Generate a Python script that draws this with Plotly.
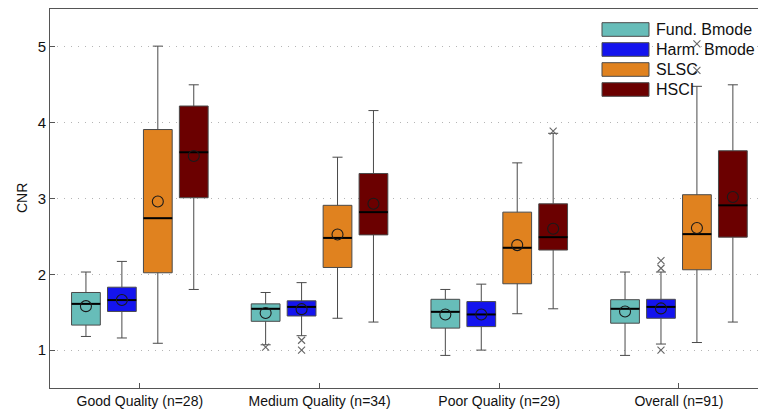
import plotly.graph_objects as go

# ---------------- data ----------------
groups = ["Good Quality (n=28)", "Medium Quality (n=34)", "Poor Quality (n=29)", "Overall (n=91)"]
series = ["Fund. Bmode", "Harm. Bmode", "SLSC", "HSCI"]

# per series: values for the 4 groups
fund_lower = [1.18, 1.07, 0.93, 0.93]
fund_q1 = [1.33, 1.38, 1.29, 1.355]
fund_median = [1.61, 1.545, 1.505, 1.545]
fund_q3 = [1.76, 1.61, 1.67, 1.665]
fund_upper = [2.03, 1.76, 1.80, 2.03]
fund_mean = [1.58, 1.49, 1.47, 1.51]

harm_lower = [1.16, 1.19, 1.00, 1.08]
harm_q1 = [1.51, 1.45, 1.31, 1.42]
harm_median = [1.66, 1.57, 1.47, 1.57]
harm_q3 = [1.83, 1.65, 1.64, 1.67]
harm_upper = [2.17, 1.89, 1.87, 2.03]
harm_mean = [1.66, 1.54, 1.47, 1.55]

slsc_lower = [1.09, 1.42, 1.48, 1.10]
slsc_q1 = [2.02, 2.09, 1.875, 2.06]
slsc_median = [2.74, 2.48, 2.35, 2.53]
slsc_q3 = [3.91, 2.91, 2.82, 3.05]
slsc_upper = [5.01, 3.545, 3.47, 4.48]
slsc_mean = [2.96, 2.525, 2.385, 2.61]

hsci_lower = [1.80, 1.37, 1.545, 1.37]
hsci_q1 = [3.01, 2.52, 2.32, 2.49]
hsci_median = [3.61, 2.82, 2.49, 2.91]
hsci_q3 = [4.22, 3.33, 2.93, 3.63]
hsci_upper = [4.50, 4.16, 3.86, 4.50]
hsci_mean = [3.56, 2.93, 2.60, 3.02]

# outliers: (group index 1..4, value)
fund_out_group = [2]
fund_out_value = [1.04]
harm_out_group = [2, 2, 4, 4, 4]
harm_out_value = [1.13, 1.00, 2.08, 2.18, 1.00]
slsc_out_group = [4, 4]
slsc_out_value = [5.04, 4.69]
hsci_out_group = [3]
hsci_out_value = [3.89]

# ---------------- styling ----------------
colors = ["#67bdb9", "#1414ee", "#e0821f", "#6b0000"]
offsets = [-0.3, -0.1, 0.1, 0.3]
box_w = 0.16
FONT = "Liberation Sans, Arial, Helvetica, sans-serif"

stats = [
    (fund_lower, fund_q1, fund_median, fund_q3, fund_upper, fund_mean, fund_out_group, fund_out_value),
    (harm_lower, harm_q1, harm_median, harm_q3, harm_upper, harm_mean, harm_out_group, harm_out_value),
    (slsc_lower, slsc_q1, slsc_median, slsc_q3, slsc_upper, slsc_mean, slsc_out_group, slsc_out_value),
    (hsci_lower, hsci_q1, hsci_median, hsci_q3, hsci_upper, hsci_mean, hsci_out_group, hsci_out_value),
]

fig = go.Figure()
gpos = list(range(1, len(groups) + 1))

for name, col, off, (lo, q1, med, q3, up, mn, og, ov) in zip(series, colors, offsets, stats):
    xs = [g + off for g in gpos]
    fig.add_trace(go.Box(
        x=xs, q1=q1, median=med, q3=q3, lowerfence=lo, upperfence=up,
        name=name, width=box_w, whiskerwidth=0.35,
        fillcolor=col, line=dict(color="#4a4a4a", width=1),
        boxpoints=False, showlegend=False, hoverinfo="skip",
    ))
    # median lines (black, thicker)
    mx, my = [], []
    for x, m in zip(xs, med):
        mx += [x - box_w / 2, x + box_w / 2, None]
        my += [m, m, None]
    fig.add_trace(go.Scatter(x=mx, y=my, mode="lines", line=dict(color="black", width=2),
                             showlegend=False, hoverinfo="skip"))
    # mean circles
    fig.add_trace(go.Scatter(x=xs, y=mn, mode="markers",
                             marker=dict(symbol="circle-open", size=11, color="#1a1a1a",
                                         line=dict(width=1.1)),
                             showlegend=False, hoverinfo="skip"))
    # outliers
    if og:
        fig.add_trace(go.Scatter(x=[g + off for g in og], y=ov, mode="markers",
                                 marker=dict(symbol="x-thin-open", size=7, color="#666",
                                             line=dict(width=1.1, color="#666")),
                                 showlegend=False, hoverinfo="skip"))

# ---------------- layout ----------------
W, H = 758, 416
L, T, B = 50, 9, 28
PW, PH = W - L, H - T - B


def px(xp):
    return (xp - L) / PW


def py(yp):
    return (H - B - yp) / PH


shapes = []
annotations = []
# legend background
shapes.append(dict(type="rect", xref="paper", yref="paper", layer="between",
                   x0=px(597), x1=px(758), y0=py(100), y1=py(19),
                   fillcolor="white", line=dict(width=0)))
row_y = [29.5, 49.5, 69.5, 89.5]
for name, col, ry in zip(series, colors, row_y):
    shapes.append(dict(type="rect", xref="paper", yref="paper", layer="above",
                       x0=px(602), x1=px(649), y0=py(ry + 6.8), y1=py(ry - 6.8),
                       fillcolor=col, line=dict(color="#4a4a4a", width=1)))
    annotations.append(dict(xref="paper", yref="paper", x=px(654), y=py(ry),
                            xanchor="left", yanchor="middle", text=name, showarrow=False,
                            font=dict(family=FONT, size=16, color="#111")))
annotations.append(dict(xref="paper", yref="paper", x=px(22), y=py(198), text="CNR",
                        textangle=-90, showarrow=False, xanchor="center", yanchor="middle",
                        font=dict(family=FONT, size=14, color="#111")))

fig.update_layout(
    width=W, height=H,
    margin=dict(l=L, r=0, t=T, b=B, pad=0),
    paper_bgcolor="white", plot_bgcolor="white",
    boxmode="overlay",
    font=dict(family=FONT, size=14, color="#111"),
    shapes=shapes, annotations=annotations,
    showlegend=False,
)
fig.update_xaxes(
    range=[0.5, 0.5 + PW / 179.7], tickvals=gpos, ticktext=groups,
    showgrid=False, zeroline=False,
    showline=True, linecolor="#555", linewidth=1, mirror=True,
    ticks="inside", ticklen=5, tickcolor="#555",
    tickfont=dict(family=FONT, size=14, color="#111"),
)
fig.update_yaxes(
    range=[0.5, 5.5], tickvals=[1, 2, 3, 4, 5],
    showgrid=True, gridcolor="#b5b5b5", gridwidth=1, griddash="1px,6px",
    zeroline=False,
    showline=True, linecolor="#555", linewidth=1, mirror=True,
    ticks="inside", ticklen=5, tickcolor="#555", ticklabelstandoff=0,
    tickfont=dict(family=FONT, size=15, color="#111"),
)

fig.write_html(
    "out.html",
    config={"displayModeBar": False, "staticPlot": True},
    post_script="document.body.style.margin='0';document.body.style.overflow='hidden';",
)
